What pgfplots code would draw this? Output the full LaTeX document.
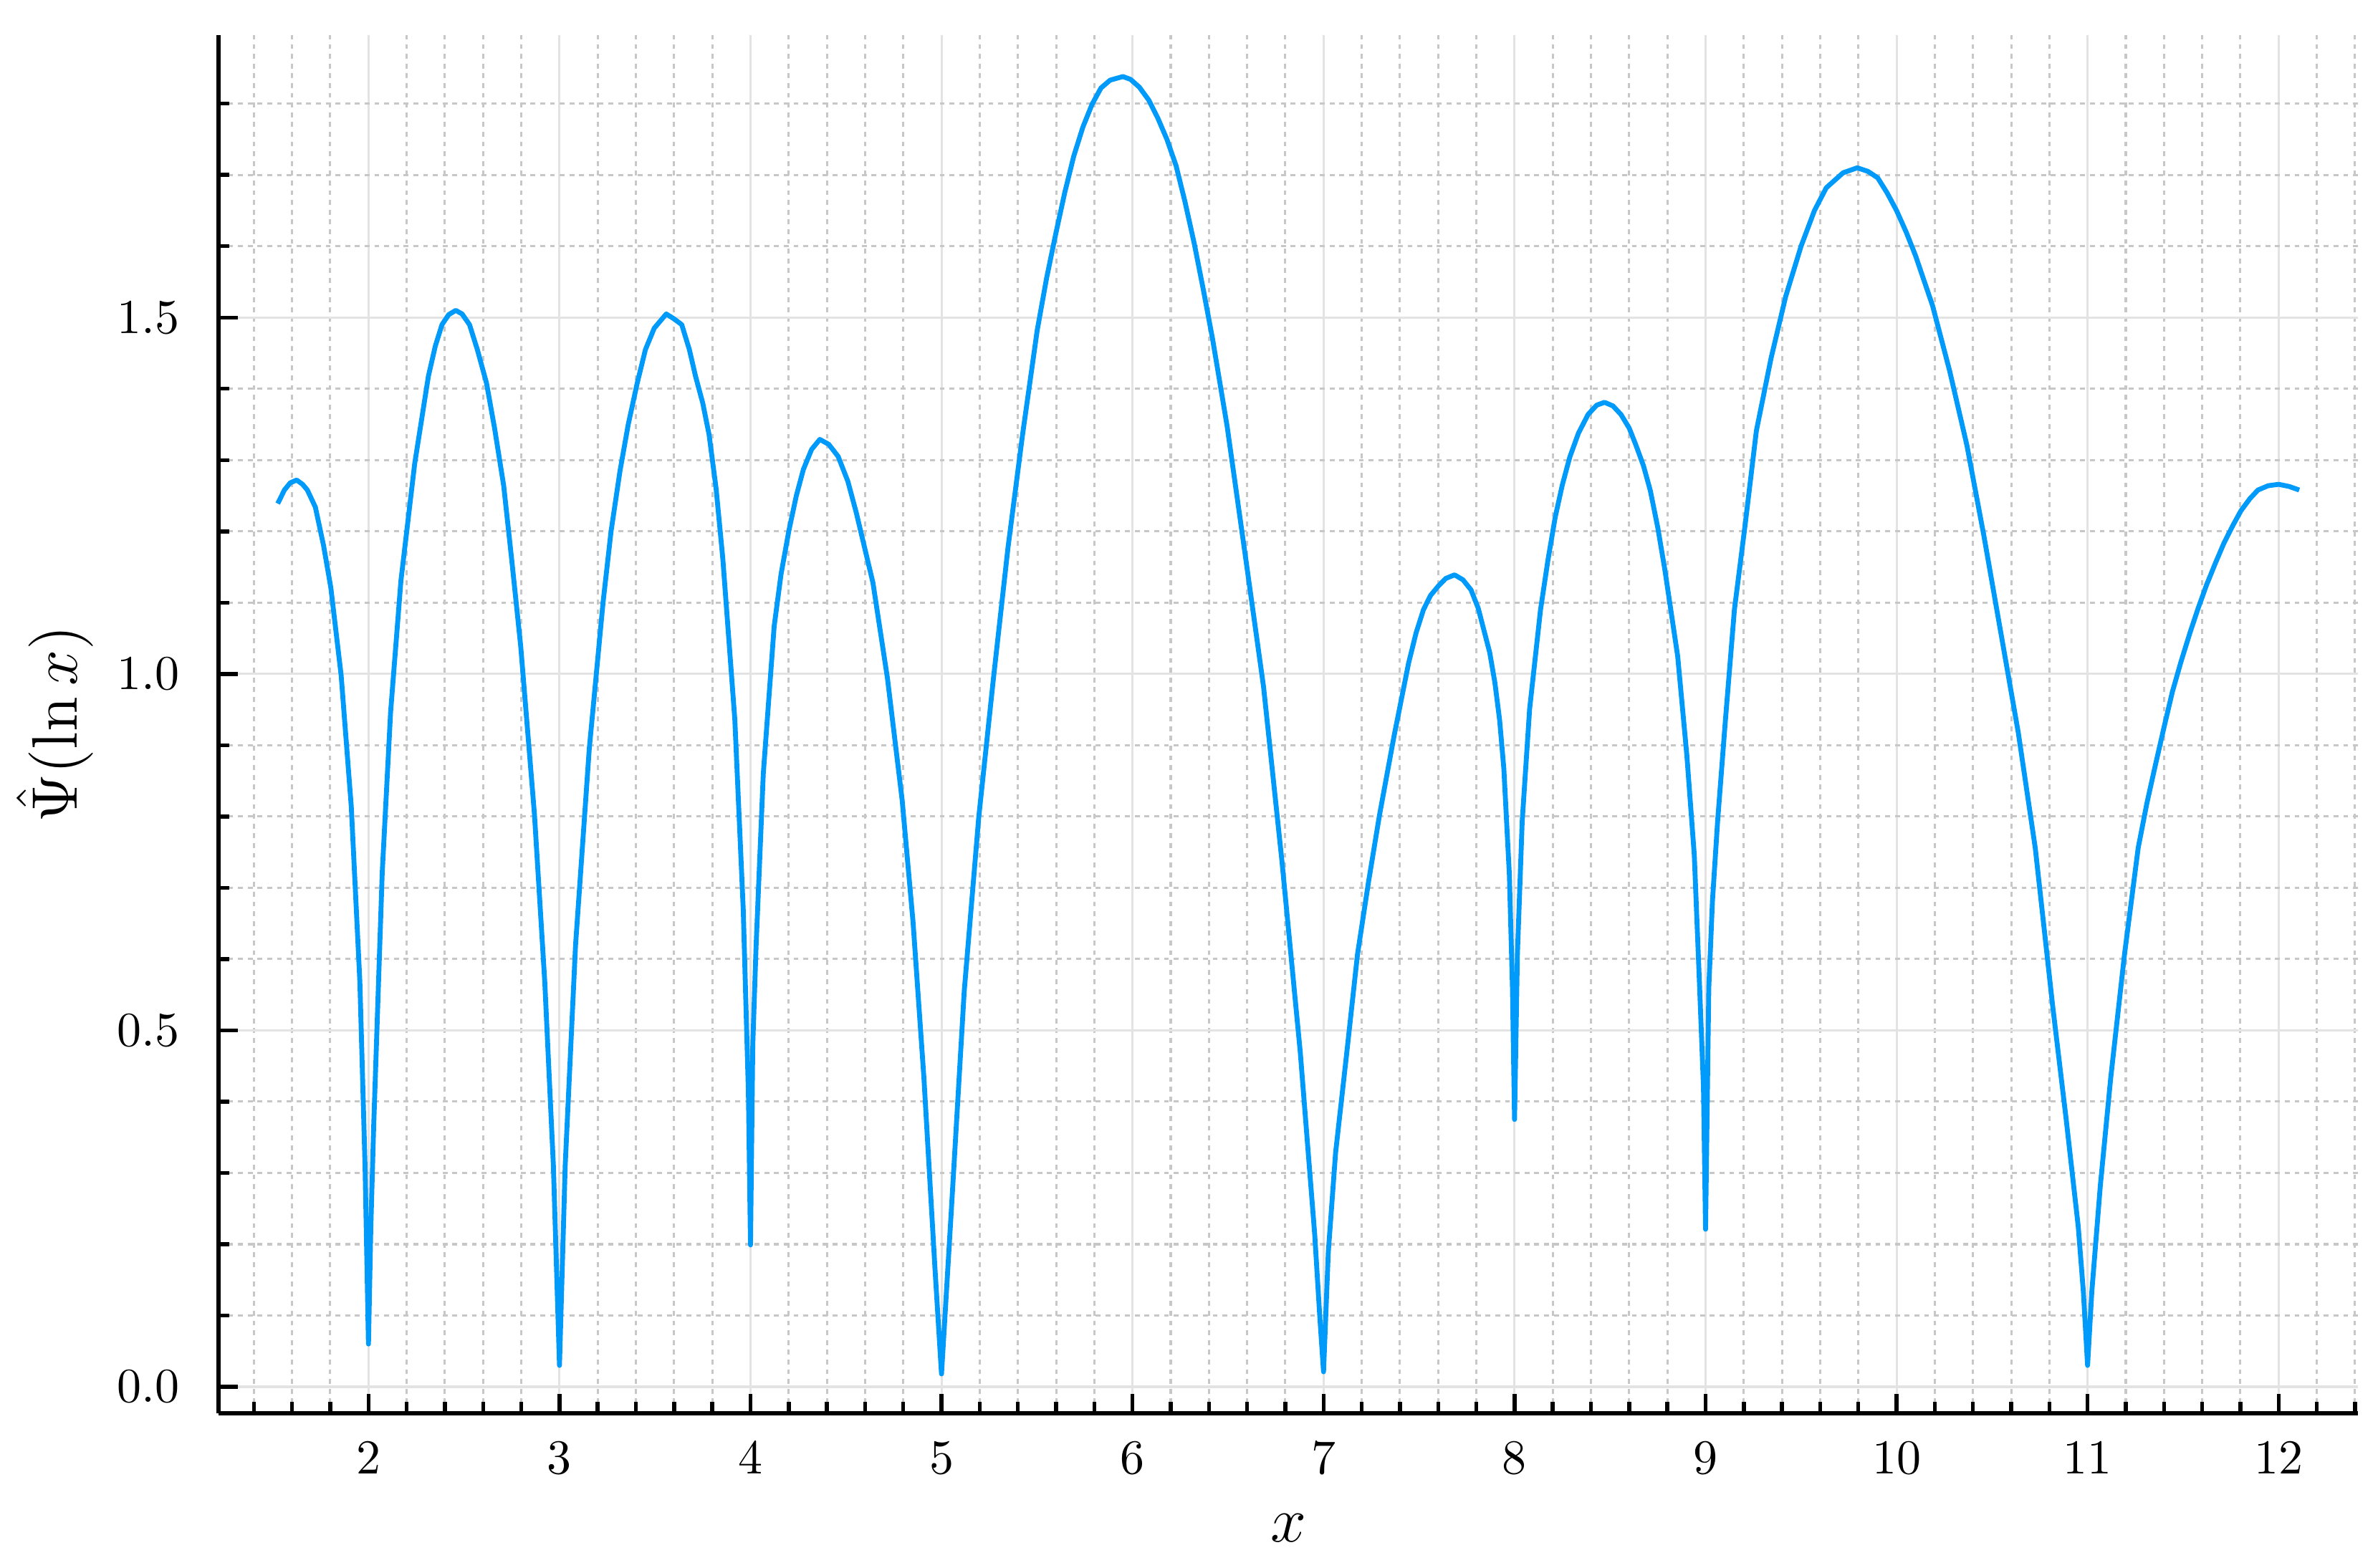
\RequirePackage{fix-cm}
\documentclass[border=0pt]{standalone}
\usepackage{pgfplots}
\pgfplotsset{compat=1.18}
\definecolor{jblue}{RGB}{0,154,250}
\begin{document}
\begin{tikzpicture}
\begin{axis}[
  scale only axis,
  width=15.43cm, height=9.94cm,
  at={(0,0)}, anchor=south west,
  xmin=1.215, xmax=12.416,
  ymin=-0.037, ymax=1.896,
  axis lines=left,
  axis line style={-, line width=0.8pt, black},
  tick align=inside,
  xtick={2,3,4,5,6,7,8,9,10,11,12},
  ytick={0,0.5,1.0,1.5},
  yticklabels={0.0,0.5,1.0,1.5},
  minor xtick={1.4,1.6,1.8,2.2,2.4,2.6,2.8,3.2,3.4,3.6,3.8,4.2,4.4,4.6,4.8,5.2,5.4,5.6,5.8,6.2,6.4,6.6,6.8,7.2,7.4,7.6,7.8,8.2,8.4,8.6,8.8,9.2,9.4,9.6,9.8,10.2,10.4,10.6,10.8,11.2,11.4,11.6,11.8,12.2,12.4},
  minor ytick={0.1,0.2,0.3,0.4,0.6,0.7,0.8,0.9,1.1,1.2,1.3,1.4,1.6,1.7,1.8},
  major tick length=0.14cm,
  minor tick length=0.08cm,
  every tick/.style={black, line width=0.8pt},
  grid=both,
  major grid style={draw=black!11, line width=0.45pt},
  minor grid style={draw=black!22, line width=0.45pt, dash pattern=on 1pt off 1pt},
  xticklabel style={yshift=-2.5pt},
  yticklabel style={xshift=-4.5pt},
  tick label style={font=\fontsize{10}{12}\selectfont},
  xlabel={$x$},
  ylabel={$\hat{\Psi}(\ln x)$},
  label style={font=\fontsize{13.2}{15}\selectfont},
  xlabel style={at={(axis description cs:0.5,-0.0835)}, anchor=center},
  ylabel style={at={(axis description cs:-0.0765,0.5)}, anchor=center},
  clip=false,
]
\addplot[jblue, line width=1pt, line join=round] coordinates {
(1.525,1.239) (1.56,1.258) (1.59,1.268) (1.624,1.272) (1.655,1.266) (1.68,1.258) (1.722,1.234) (1.765,1.18)
(1.803,1.121) (1.857,0.998) (1.910,0.814) (1.955,0.568) (1.982,0.311) (2.0,0.060)
(2.012,0.22) (2.027,0.363) (2.072,0.721) (2.116,0.947) (2.170,1.131) (2.242,1.295)
(2.314,1.418) (2.35,1.46) (2.385,1.490) (2.42,1.504) (2.457,1.510) (2.49,1.505) (2.529,1.490) (2.57,1.455) (2.618,1.408) (2.66,1.345) (2.708,1.264)
(2.75,1.16) (2.797,1.039) (2.869,0.803) (2.923,0.568) (2.968,0.311) (3.0,0.030)
(3.030,0.311) (3.084,0.619) (3.156,0.895) (3.228,1.100) (3.27,1.20) (3.317,1.285) (3.36,1.35) (3.407,1.408)
(3.45,1.455) (3.496,1.485) (3.559,1.505) (3.60,1.498) (3.640,1.490) (3.68,1.455) (3.712,1.418) (3.75,1.38) (3.783,1.336) (3.82,1.26) (3.855,1.162)
(3.918,0.936) (3.962,0.670) (3.989,0.414) (4.0,0.199)
(4.012,0.48) (4.029,0.616) (4.067,0.860) (4.124,1.067) (4.16,1.14) (4.201,1.201) (4.24,1.25) (4.277,1.287)
(4.32,1.315) (4.363,1.329) (4.41,1.322) (4.459,1.305) (4.51,1.27) (4.554,1.226) (4.641,1.128) (4.717,0.994) (4.794,0.823)
(4.851,0.652) (4.908,0.433) (4.966,0.165) (5.0,0.018)
(5.052,0.250) (5.119,0.555) (5.195,0.799) (5.272,0.994) (5.348,1.177) (5.424,1.335)
(5.501,1.482) (5.55,1.555) (5.597,1.616) (5.645,1.675) (5.692,1.726) (5.74,1.767) (5.788,1.799) (5.835,1.822) (5.883,1.833) (5.950,1.838)
(5.99,1.834) (6.036,1.823) (6.085,1.805) (6.132,1.780) (6.18,1.75) (6.228,1.713) (6.275,1.662) (6.323,1.604) (6.37,1.54) (6.419,1.470) (6.495,1.348)
(6.591,1.165) (6.686,0.982) (6.782,0.738) (6.878,0.470) (6.954,0.213) (6.98,0.10) (7.0,0.021)
(7.025,0.189) (7.063,0.328) (7.121,0.467) (7.178,0.607) (7.236,0.709) (7.293,0.802)
(7.370,0.914) (7.446,1.016) (7.485,1.058) (7.523,1.090) (7.560,1.110) (7.600,1.123) (7.64,1.134) (7.686,1.139) (7.73,1.132) (7.772,1.118)
(7.81,1.092) (7.839,1.062) (7.87,1.03) (7.897,0.988) (7.922,0.935) (7.944,0.867) (7.973,0.718) (7.989,0.560) (8.0,0.375)
(8.015,0.607) (8.040,0.793) (8.079,0.951) (8.136,1.090) (8.175,1.16) (8.213,1.220) (8.25,1.265) (8.289,1.304)
(8.335,1.338) (8.385,1.364) (8.43,1.377) (8.471,1.381) (8.515,1.376) (8.557,1.364) (8.60,1.345) (8.634,1.322) (8.675,1.292) (8.711,1.257) (8.75,1.205) (8.787,1.146)
(8.854,1.025) (8.902,0.886) (8.941,0.746) (8.969,0.560) (8.989,0.421) (9.0,0.221)
(9.017,0.560) (9.036,0.681) (9.063,0.793) (9.103,0.932) (9.151,1.090) (9.208,1.211)
(9.266,1.341) (9.343,1.443) (9.42,1.53) (9.50,1.60) (9.57,1.65) (9.632,1.682)
(9.72,1.703) (9.794,1.710) (9.85,1.705) (9.901,1.696) (9.95,1.675) (10.0,1.650) (10.05,1.62) (10.099,1.587) (10.188,1.517)
(10.278,1.425) (10.368,1.321) (10.457,1.194) (10.547,1.056) (10.637,0.918) (10.726,0.756)
(10.816,0.537) (10.888,0.375) (10.951,0.225) (10.978,0.133) (11.0,0.03)
(11.022,0.133) (11.067,0.283) (11.121,0.433) (11.193,0.606) (11.265,0.756) (11.31,0.818) (11.354,0.871) (11.40,0.925)
(11.444,0.975) (11.49,1.018) (11.534,1.056) (11.58,1.093) (11.623,1.125) (11.67,1.156) (11.713,1.183) (11.76,1.208) (11.803,1.229) (11.85,1.246) (11.892,1.258)
(11.945,1.264) (12.0,1.266) (12.055,1.263) (12.108,1.258)
};
\end{axis}
\pgfresetboundingbox
\path[use as bounding box] (-1.576,-1.116) rectangle (15.574,10.194);
\end{tikzpicture}
\end{document}
